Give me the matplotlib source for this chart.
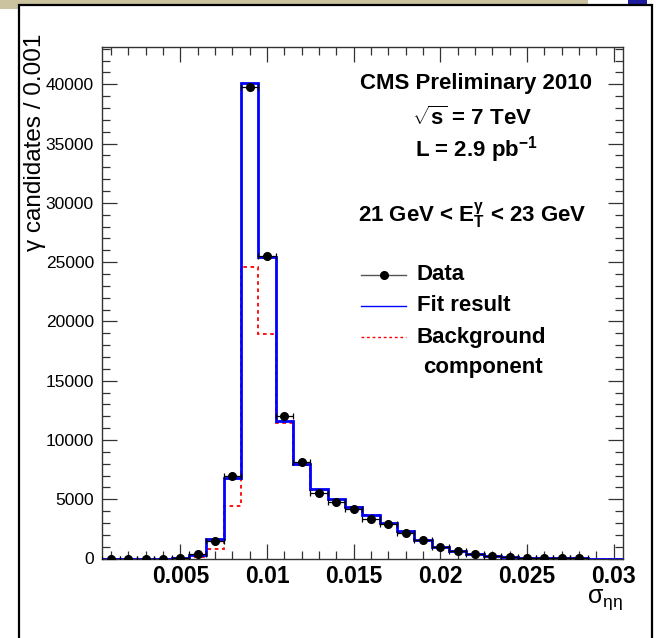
import matplotlib
matplotlib.use("Agg")
import matplotlib.pyplot as plt
from matplotlib.patches import Rectangle
from matplotlib.lines import Line2D
from matplotlib.ticker import MultipleLocator
import numpy as np

# sigma_ietaieta binning, width 0.001
bin_edges = np.arange(0.0005, 0.0306, 0.001)

# fit result (blue) per bin
fit_vals = [0, 0, 0, 0, 20, 260, 1650, 6800, 40100, 25400,
            11600, 8000, 5900, 5020, 4380, 3680, 2980, 2280, 1580, 990,
            640, 350, 200, 120, 50, 20, 10, 5, 0, 0]

# background component (red dashed) per bin
bkg_vals = [0, 0, 0, 0, 10, 120, 760, 4400, 24600, 18900,
            11400, 7850, 5820, 4960, 4330, 3640, 2950, 2260, 1570, 980,
            635, 345, 198, 118, 50, 20, 10, 5, 0, 0]

# data points
data_x = [0.001, 0.002, 0.003, 0.004, 0.005, 0.006, 0.007, 0.008, 0.009, 0.010,
          0.011, 0.012, 0.013, 0.014, 0.015, 0.016, 0.017, 0.018, 0.019, 0.020,
          0.021, 0.022, 0.023, 0.024, 0.025, 0.026, 0.027, 0.028]
data_y = [0, 0, 0, 0, 30, 350, 1500, 7000, 39800, 25500,
          12000, 8150, 5500, 4750, 4150, 3350, 2880, 2180, 1560, 980,
          640, 410, 230, 150, 80, 40, 20, 10]

plt.rcParams['font.family'] = ['Liberation Sans', 'DejaVu Sans']
plt.rcParams['mathtext.fontset'] = 'custom'
plt.rcParams['mathtext.rm'] = 'Liberation Sans'
plt.rcParams['mathtext.it'] = 'Liberation Sans'
plt.rcParams['mathtext.bf'] = 'Liberation Sans:bold'

W, H = 656, 638


def fx(x):
    return x / W


def fy(y):
    return 1 - y / H


fig = plt.figure(figsize=(6.56, 6.38), dpi=100)
fig.patch.set_facecolor('white')

# slide-like background pieces
fig.add_artist(Rectangle((0, fy(9)), fx(588), 9 / H, transform=fig.transFigure,
                         facecolor='#cbc39f', edgecolor='none', zorder=-3))
fig.add_artist(Rectangle((fx(628), fy(4)), fx(19), 4 / H, transform=fig.transFigure,
                         facecolor='#1c1c9c', edgecolor='none', zorder=-3))
fig.add_artist(Rectangle((fx(19), fy(645)), fx(633), 640 / H, transform=fig.transFigure,
                         facecolor='white', edgecolor='black', linewidth=1.6, zorder=-2))

ax = fig.add_axes([fx(102.3), fy(558.5), fx(520.2), 511.5 / H])

ax.stairs(bkg_vals, bin_edges, color='red', linewidth=1.3, linestyle=(0, (2, 2)), zorder=2)
ax.stairs(fit_vals, bin_edges, color='blue', linewidth=2.0, zorder=3)
ax.errorbar(data_x, data_y, xerr=0.0005, yerr=np.sqrt(data_y), fmt='o', color='black',
            markersize=5.5, elinewidth=0.9, capsize=2.2, capthick=0.9, zorder=4)

ax.set_xlim(0.0005, 0.0305)
ax.set_ylim(0, 43150)

ax.xaxis.set_major_locator(MultipleLocator(0.005))
ax.xaxis.set_minor_locator(MultipleLocator(0.001))
ax.yaxis.set_major_locator(MultipleLocator(5000))
ax.yaxis.set_minor_locator(MultipleLocator(1000))
ax.set_xticks([0.005, 0.01, 0.015, 0.02, 0.025, 0.03])
ax.set_xticklabels(['0.005', '0.01', '0.015', '0.02', '0.025', '0.03'],
                   fontsize=16.5, fontweight='bold')
ax.set_yticks(range(0, 40001, 5000))
ax.set_yticklabels([str(v) for v in range(0, 40001, 5000)], fontsize=12.5)

ax.tick_params(which='both', direction='in', top=True, right=True, color='#333333')
ax.tick_params(which='major', length=11, width=0.9)
ax.tick_params(which='minor', length=5.5, width=0.9)
ax.tick_params(axis='x', which='major', pad=5)
ax.tick_params(axis='y', which='major', pad=6)
for sp in ax.spines.values():
    sp.set_color('#333333')
    sp.set_linewidth(1.0)

fig.text(fx(35), fy(34), 'γ candidates / 0.001', rotation=90, ha='center', va='top',
         fontsize=17.5)
fig.text(fx(623), fy(600), r'$\mathrm{\sigma_{\eta\eta}}$', ha='right', va='center',
         fontsize=18)

fig.text(fx(476), fy(84), 'CMS Preliminary 2010', ha='center', va='center',
         fontsize=16, fontweight='bold')
fig.text(fx(472), fy(118), r'$\mathbf{\sqrt{s}}$ = 7 TeV', ha='center', va='center',
         fontsize=16, fontweight='bold')
fig.text(fx(476), fy(150), r'L = 2.9 pb$\mathbf{^{-1}}$', ha='center', va='center',
         fontsize=16, fontweight='bold')
fig.text(fx(472), fy(216), r'21 GeV < E$\mathbf{_{T}^{\gamma}}$ < 23 GeV', ha='center',
         va='center', fontsize=16, fontweight='bold')

# legend drawn by hand, ROOT style
leg_x0, leg_x1 = fx(361), fx(406)
fig.add_artist(Line2D([leg_x0, leg_x1], [fy(275), fy(275)], color='#555555',
                      linewidth=1.0, transform=fig.transFigure))
fig.add_artist(Line2D([fx(383.5)], [fy(275)], marker='o', markersize=5.5, color='black',
                      linestyle='none', transform=fig.transFigure))
fig.add_artist(Line2D([leg_x0, leg_x1], [fy(306), fy(306)], color='blue',
                      linewidth=1.0, transform=fig.transFigure))
fig.add_artist(Line2D([leg_x0, leg_x1], [fy(337), fy(337)], color='red',
                      linewidth=1.0, linestyle=(0, (2, 2)), transform=fig.transFigure))
fig.text(fx(417), fy(275), 'Data', ha='left', va='center', fontsize=16, fontweight='bold')
fig.text(fx(417), fy(306), 'Fit result', ha='left', va='center', fontsize=16, fontweight='bold')
fig.text(fx(417), fy(337), 'Background', ha='left', va='center', fontsize=16, fontweight='bold')
fig.text(fx(423), fy(368), 'component', ha='left', va='center', fontsize=16, fontweight='bold')

plt.savefig('out.png', dpi=100)
